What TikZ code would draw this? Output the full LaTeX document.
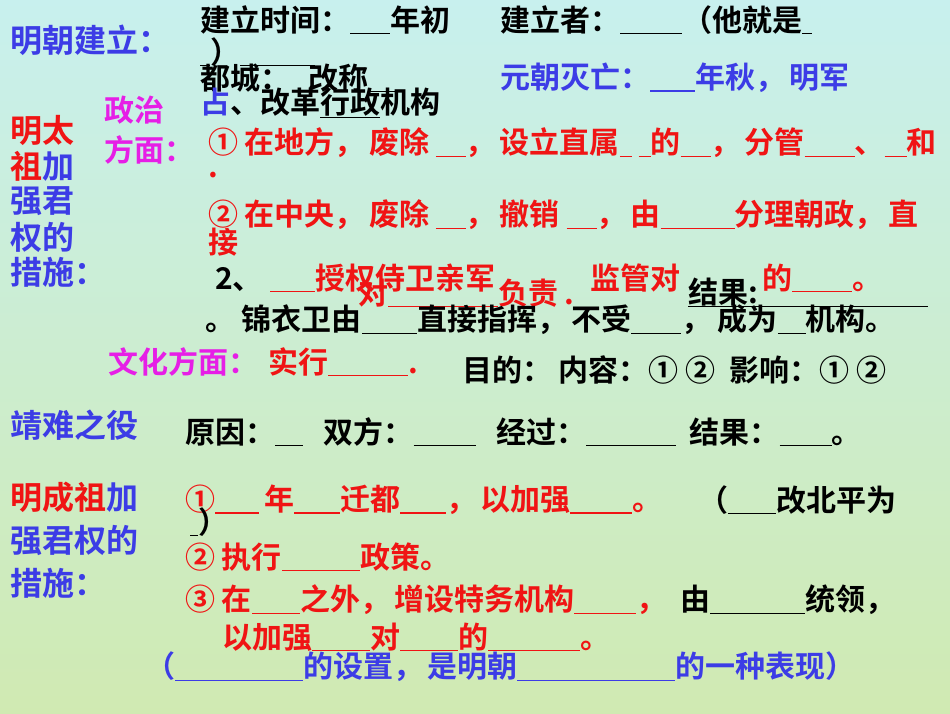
\documentclass[tikz,border=0pt]{standalone}
\usepackage{fontspec}
\setmainfont{Noto Sans CJK SC Bold}
\newcommand\bl[1]{\rule[-3pt]{#1pt}{1.3pt}}
\newcommand\cm{，\hspace{4pt}}
\begin{document}
\begin{tikzpicture}[x=1pt,y=-1pt,
  t/.style={anchor=west,inner sep=0pt,font=\fontsize{30}{32}\selectfont},
  big/.style={anchor=west,inner sep=0pt,font=\fontsize{32}{34}\selectfont}]
\definecolor{rd}{RGB}{240,20,20}\definecolor{bu}{RGB}{60,60,230}\definecolor{mg}{RGB}{230,30,230}
\shade[top color={rgb,255:red,200;green,240;blue,238},bottom color={rgb,255:red,208;green,234;blue,178}] (0,0) rectangle (950,713);
\useasboundingbox (0,0) rectangle (950,713);
% header
\node[t] (a2) at (200,20) {建立时间：\bl{40}年初};
\node[t] (a3) at (500,20) {建立者：\bl{62}（他就是\bl{10}};
\node[t] (a4) at (200,52) {\bl{10}）\bl{75}};
\node[t] (a5) at (200,78) {都城：\hspace{18pt}改称\bl{35}};
\node[t,text=bu] (a6) at (500,78) {元朝灭亡：\bl{45}年秋\cm 明军};
\node[t] (a7) at (200,103) {{\color{bu}占}、改革\underline{行政}机构};
\node[big,text=bu] (a1) at (10,40) {明朝建立：};
% left column
\node[big] (b1) at (10,130) {\color{rd}明太};
\node[big] (b2) at (10,166) {\color{rd}祖\color{bu}加};
\node[big,text=bu] (b3) at (10,201) {强君};
\node[big,text=bu] (b4) at (10,237) {权的};
\node[big,text=bu] (b5) at (10,272) {措施：};
\node[t,text=mg] (c1) at (104,110) {政治};
\node[t,text=mg] (c2) at (104,150) {方面：};
\node[t,text=rd] (d1) at (208,143) {① 在地方\cm 废除 \bl{30}\cm 设立直属\bl{12} \bl{12}的\bl{30}\cm 分管\bl{50}、\bl{22}和};
\node[t,text=rd] (d2) at (208,175) {.};
\node[t,text=rd] (d3) at (208,215) {② 在中央\cm 废除 \bl{30}\cm 撤销 \bl{30}\cm 由\bl{74}分理朝政\cm 直};
\node[t,text=rd] (d4) at (208,242) {接};
\node[t] (e0) at (215,280) {2、};
\node[t,text=rd] (e1) at (270,278) {\bl{45}授权侍卫亲军};
\node[t,text=rd] (e2) at (358,293) {对\bl{110}负责 .};
\node[t,text=rd] (e3) at (590,278) {监管对};
\node[t] (e4) at (688,292) {结果:};
\node[t,text=rd] (e5) at (762,278) {的\bl{60}。};
\draw[line width=1.3pt] (e4.south west) -- ++(240,0);
\node[t] (f1) at (205,320) {。 锦衣卫由\bl{55}直接指挥\cm 不受\bl{50}，\ 成为\bl{28}机构。};
\node[t,text=mg] (g1) at (108,362) {文化方面：};
\node[t,text=rd] (g2) at (268,362) {实行\bl{80}.};
\node[t] (g3) at (462,370) {目的：\ 内容：① ②\ \ 影响：① ②};
\node[big,text=bu] (h1) at (10,425) {靖难之役};
\node[t] (h2) at (185,432) {原因：\bl{28}\ \ \ 双方：\bl{62}\ \ \ 经过：\bl{90}\ \ 结果：\bl{52}。};
% second block
\node[big] (i1) at (10,497) {\color{rd}明成祖\color{bu}加};
\node[big,text=bu] (i2) at (10,540) {强君权的};
\node[big,text=bu] (i3) at (10,583) {措施：};
\node[t,text=rd] (j1) at (185,500) {①\bl{44}\,年\bl{46}迁都\bl{46}\cm 以加强\bl{62}。};
\node[t] (j2) at (698,500) {（\bl{48}改北平为};
\node[t] (j3) at (190,522) {\bl{8}）};
\node[t,text=rd] (j4) at (185,557) {② 执行\bl{78}政策。};
\node[t,text=rd] (j5) at (185,600) {③ 在\bl{48}之外\cm 增设特务机构\bl{62}，};
\node[t] (j6) at (680,600) {由\bl{95}统领，};
\node[t,text=rd] (j7) at (222,637) {以加强\bl{58}对\bl{58}的\bl{92}。};
\node[t,text=bu] (k1) at (145,667) {（\bl{128}的设置\cm 是明朝\bl{158}的一种表现）};
\end{tikzpicture}
\end{document}
